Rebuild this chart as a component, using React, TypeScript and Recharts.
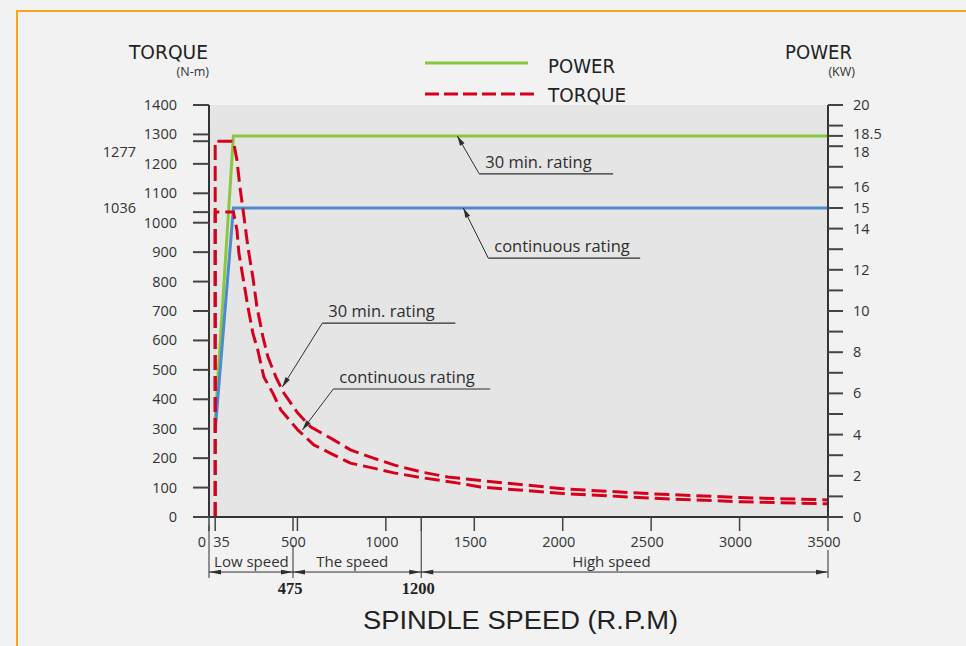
import React from 'react';
import { ComposedChart, Line, XAxis, YAxis, ReferenceArea, ReferenceLine, ReferenceDot } from 'recharts';

// ---------- data ----------
const speedTicks = [0, 35, 475, 500, 1000, 1200, 1500, 2000, 2500, 3000, 3500];
const unlabeledSpeedTicks = [475, 1200];
const torqueTicks = [0, 100, 200, 300, 400, 500, 600, 700, 800, 900, 1000, 1036, 1100, 1200, 1277, 1300, 1400];
const torqueSideLabels = [1036, 1277];
const powerTicks = [0, 1, 2, 3, 4, 5, 6, 7, 8, 9, 10, 11, 12, 13, 14, 15, 16, 17, 18, 18.5, 19, 20];
const powerLabels = [0, 2, 4, 6, 8, 10, 12, 14, 15, 16, 18, 18.5, 20];

const torque30 = [
  { rpm: 35, torque: 0 }, { rpm: 35, torque: 1277 }, { rpm: 138, torque: 1277 },
  { rpm: 158, torque: 1213 }, { rpm: 175, torque: 1121 }, { rpm: 198, torque: 1019 },
  { rpm: 220, torque: 917 }, { rpm: 248, torque: 815 }, { rpm: 271, torque: 714 },
  { rpm: 305, torque: 612 }, { rpm: 333, torque: 544 }, { rpm: 378, torque: 476 },
  { rpm: 423, torque: 421 }, { rpm: 502, torque: 353 }, { rpm: 576, torque: 306 },
  { rpm: 705, torque: 262 }, { rpm: 800, torque: 228 }, { rpm: 930, torque: 200 },
  { rpm: 1045, torque: 177 }, { rpm: 1200, torque: 153 }, { rpm: 1350, torque: 136 },
  { rpm: 1535, torque: 124 }, { rpm: 2000, torque: 96 }, { rpm: 2500, torque: 79 },
  { rpm: 3000, torque: 66 }, { rpm: 3500, torque: 58 },
];
const torqueCont = [
  { rpm: 35, torque: 0 }, { rpm: 35, torque: 1036 }, { rpm: 138, torque: 1036 },
  { rpm: 158, torque: 975 }, { rpm: 169, torque: 897 }, { rpm: 192, torque: 815 },
  { rpm: 220, torque: 714 }, { rpm: 248, torque: 625 }, { rpm: 276, torque: 567 },
  { rpm: 310, torque: 476 }, { rpm: 361, torque: 421 }, { rpm: 406, torque: 364 },
  { rpm: 502, torque: 296 }, { rpm: 593, torque: 245 }, { rpm: 705, torque: 211 },
  { rpm: 800, torque: 183 }, { rpm: 930, torque: 166 }, { rpm: 1045, torque: 150 },
  { rpm: 1210, torque: 133 }, { rpm: 1400, torque: 116 }, { rpm: 1535, torque: 102 },
  { rpm: 2000, torque: 80 }, { rpm: 2500, torque: 64 }, { rpm: 3000, torque: 52 },
  { rpm: 3500, torque: 45 },
];
const power30 = [{ rpm: 35, power: 4.7 }, { rpm: 138, power: 18.5 }, { rpm: 3500, power: 18.5 }];
const powerCont = [{ rpm: 35, power: 4.2 }, { rpm: 138, power: 15 }, { rpm: 3500, power: 15 }];

const annotationTexts = ['30 min. rating', 'continuous rating', '30 min. rating', 'continuous rating'];
const speedRangeLabels = ['Low speed', 'The speed', 'High speed'];
const speedBoundaries = [0, 475, 1200, 3500];
const boundaryLabels = ['475', '1200'];

// ---------- layout (in chart data units) ----------
const annotationGeom = [
  { tip: [1404, 1295], elbow: [1528, 1166], end: [2285, 1166] },
  { tip: [1438, 1050], elbow: [1579, 880], end: [2438, 880] },
  { tip: [415, 442], elbow: [641, 659], end: [1393, 659] },
  { tip: [528, 296], elbow: [703, 435], end: [1590, 435] },
];
const rangeLabelAt = [240, 810, 2275];
const rangeLabelY = -170;
const dimLineY = -187;
const extTop = [-27, -95, -44, -112];
const extBottom = -207;
const boundaryLabelY = -262;

const FONT = "'Open Sans', 'Liberation Sans', sans-serif";
const NARROW = "'Liberation Sans Narrow', 'DejaVu Sans Condensed', 'Liberation Sans', sans-serif";
const RED = '#d7001c';
const GREEN = '#8cc63e';
const BLUE = '#4d8ad0';
const INK = '#2e2e2e';

function arrowHead(x: number, y: number, fx: number, fy: number, len = 10, half = 2.6) {
  const a = Math.atan2(y - fy, x - fx);
  const bx = x - len * Math.cos(a);
  const by = y - len * Math.sin(a);
  const px = -Math.sin(a) * half;
  const py = Math.cos(a) * half;
  return `M${x},${y} L${bx + px},${by + py} L${bx - px},${by - py} Z`;
}

const leaderShape = (p: any) => (
  <g>
    <line x1={p.x1} y1={p.y1} x2={p.x2} y2={p.y2} stroke={INK} strokeWidth={1} />
    <path d={arrowHead(p.x2, p.y2, p.x1, p.y1)} fill={INK} />
  </g>
);

const underlineShape = (text: string) => (p: any) => (
  <g>
    <line x1={p.x1} y1={p.y1} x2={p.x2} y2={p.y2} stroke={INK} strokeWidth={1.2} />
    <text x={p.x1 + 6} y={p.y1 - 6} fill={INK} fontFamily={FONT} fontSize={16.5}>{text}</text>
  </g>
);

const dimShape = (p: any) => (
  <g>
    <line x1={p.x1} y1={p.y1} x2={p.x2} y2={p.y2} stroke={INK} strokeWidth={1} />
    <path d={arrowHead(p.x1, p.y1, p.x1 + 20, p.y1, 12, 2.4)} fill={INK} />
    <path d={arrowHead(p.x2, p.y2, p.x2 - 20, p.y2, 12, 2.4)} fill={INK} />
  </g>
);

const TorqueTick = (props: any) => {
  const { x, y, payload } = props;
  const v = payload.value;
  const side = torqueSideLabels.includes(v);
  const dy = v === 1277 ? 11 : v === 1036 ? -4 : 0;
  return (
    <text x={side ? x - 41 : x} y={y + dy + 5} textAnchor="end" fill="#333" fontFamily={FONT} fontSize={14.5}>
      {v}
    </text>
  );
};

const PowerTick = (props: any) => {
  const { x, y, payload } = props;
  const v = payload.value;
  if (!powerLabels.includes(v)) return <g />;
  const dy = v === 18 ? 6 : v === 18.5 ? -1.5 : 0;
  return (
    <text x={x} y={y + dy + 5} textAnchor="start" fill="#333" fontFamily={FONT} fontSize={14.5}>
      {v}
    </text>
  );
};

const SpeedTick = (props: any) => {
  const { x, y, payload } = props;
  const v = payload.value;
  if (unlabeledSpeedTicks.includes(v)) return <g />;
  let tx = x - 4;
  let anchor: any = 'middle';
  if (v === 0) { tx = x - 3; anchor = 'end'; }
  if (v === 35) { tx = x - 2; anchor = 'start'; }
  return (
    <text x={tx} y={y + 12} textAnchor={anchor} fill="#333" fontFamily={FONT} fontSize={14.5}>
      {v}
    </text>
  );
};

export default function App() {
  return (
    <div style={{ position: 'absolute', left: 0, top: 0, width: 966, height: 646, background: '#f1f2f1', overflow: 'hidden' }}>
      <div style={{ position: 'absolute', left: 16, top: 10, width: 990, height: 680, border: '2px solid #f2a71c', boxSizing: 'border-box' }} />
      <div style={{ position: 'absolute', left: 0, top: 0 }}>
        <ComposedChart width={966} height={646} margin={{ top: 105, right: 78, bottom: 89, left: 149 }}>
          <XAxis
            dataKey="rpm" type="number" domain={[0, 3500]} ticks={speedTicks} interval={0}
            tickSize={14} tickMargin={4} height={40} tick={SpeedTick} allowDataOverflow
            axisLine={{ stroke: '#333', strokeWidth: 2 }} tickLine={{ stroke: '#444', strokeWidth: 1.5 }}
          />
          <YAxis
            yAxisId="torque" orientation="left" domain={[0, 1400]} ticks={torqueTicks} interval={0}
            width={60} tickSize={16} tickMargin={16} tick={TorqueTick} allowDataOverflow
            axisLine={{ stroke: '#333', strokeWidth: 2 }} tickLine={{ stroke: '#444', strokeWidth: 2 }}
          />
          <YAxis
            yAxisId="power" orientation="right" domain={[0, 20]} ticks={powerTicks} interval={0}
            width={60} tickSize={15} tickMargin={10} tick={PowerTick} allowDataOverflow
            axisLine={{ stroke: '#333', strokeWidth: 2 }} tickLine={{ stroke: '#444', strokeWidth: 2 }}
          />
          <ReferenceArea yAxisId="torque" x1={0} x2={3500} y1={0} y2={1400} fill="#e5e5e5" fillOpacity={1} stroke="none" ifOverflow="visible" />

          <Line data={power30} dataKey="power" yAxisId="power" type="linear" stroke={GREEN} strokeWidth={3} dot={false} isAnimationActive={false} />
          <Line data={powerCont} dataKey="power" yAxisId="power" type="linear" stroke={BLUE} strokeWidth={3} dot={false} isAnimationActive={false} />
          <Line data={torque30} dataKey="torque" yAxisId="torque" type="linear" stroke={RED} strokeWidth={3} strokeDasharray="15 6" dot={false} isAnimationActive={false} />
          <Line data={torqueCont} dataKey="torque" yAxisId="torque" type="linear" stroke={RED} strokeWidth={3} strokeDasharray="15 6" dot={false} isAnimationActive={false} />

          {annotationGeom.map((a, i) => (
            <ReferenceLine key={'ld' + i} yAxisId="torque" ifOverflow="visible"
              segment={[{ x: a.elbow[0], y: a.elbow[1] }, { x: a.tip[0], y: a.tip[1] }]}
              shape={leaderShape} />
          ))}
          {annotationGeom.map((a, i) => (
            <ReferenceLine key={'ul' + i} yAxisId="torque" ifOverflow="visible"
              segment={[{ x: a.elbow[0], y: a.elbow[1] }, { x: a.end[0], y: a.end[1] }]}
              shape={underlineShape(annotationTexts[i])} />
          ))}

          {speedRangeLabels.map((label, i) => (
            <ReferenceLine key={'dim' + i} yAxisId="torque" ifOverflow="visible"
              segment={[{ x: speedBoundaries[i], y: dimLineY }, { x: speedBoundaries[i + 1], y: dimLineY }]}
              shape={dimShape} />
          ))}
          {speedBoundaries.map((b, i) => (
            <ReferenceLine key={'ext' + i} yAxisId="torque" ifOverflow="visible"
              segment={[{ x: b, y: extTop[i] }, { x: b, y: extBottom }]}
              stroke={INK} strokeWidth={1} />
          ))}
          {speedRangeLabels.map((label, i) => (
            <ReferenceDot key={'rl' + i} yAxisId="torque" ifOverflow="visible" x={rangeLabelAt[i]} y={rangeLabelY} r={0}
              shape={(p: any) => (
                <text x={p.cx} y={p.cy} textAnchor="middle" fill="#333" fontFamily={FONT} fontSize={15}>{label}</text>
              )} />
          ))}
          {boundaryLabels.map((label, i) => (
            <ReferenceDot key={'bl' + i} yAxisId="torque" ifOverflow="visible" x={speedBoundaries[i + 1]} y={boundaryLabelY} r={0}
              shape={(p: any) => (
                <text x={p.cx - 3} y={p.cy} textAnchor="middle" fill="#222" fontFamily="'Liberation Serif', serif" fontWeight="bold" fontSize={16.5}>{label}</text>
              )} />
          ))}
        </ComposedChart>
      </div>
      <svg width={966} height={646} style={{ position: 'absolute', left: 0, top: 0, pointerEvents: 'none' }}>
        <text x={129} y={59} fontFamily={NARROW} fontSize={20} fill="#222" textLength={79} lengthAdjust="spacingAndGlyphs">TORQUE</text>
        <text x={209} y={76} fontFamily={FONT} fontSize={12.5} fill="#333" textAnchor="end">(N-m)</text>
        <text x={785} y={59} fontFamily={NARROW} fontSize={20} fill="#222" textLength={67} lengthAdjust="spacingAndGlyphs">POWER</text>
        <text x={855} y={76} fontFamily={FONT} fontSize={12.5} fill="#333" textAnchor="end">(KW)</text>

        <line x1={425} y1={63} x2={528} y2={63} stroke={GREEN} strokeWidth={3} />
        <text x={548} y={73} fontFamily={NARROW} fontSize={20} fill="#222" textLength={67} lengthAdjust="spacingAndGlyphs">POWER</text>
        <line x1={425} y1={94} x2={534} y2={94} stroke={RED} strokeWidth={3} strokeDasharray="14 5" />
        <text x={548} y={102} fontFamily={NARROW} fontSize={20} fill="#222" textLength={78} lengthAdjust="spacingAndGlyphs">TORQUE</text>

        <text x={363} y={629} fontFamily="'Liberation Sans', sans-serif" fontSize={26} fill="#222" textLength={315} lengthAdjust="spacingAndGlyphs">SPINDLE SPEED (R.P.M)</text>
      </svg>
    </div>
  );
}
